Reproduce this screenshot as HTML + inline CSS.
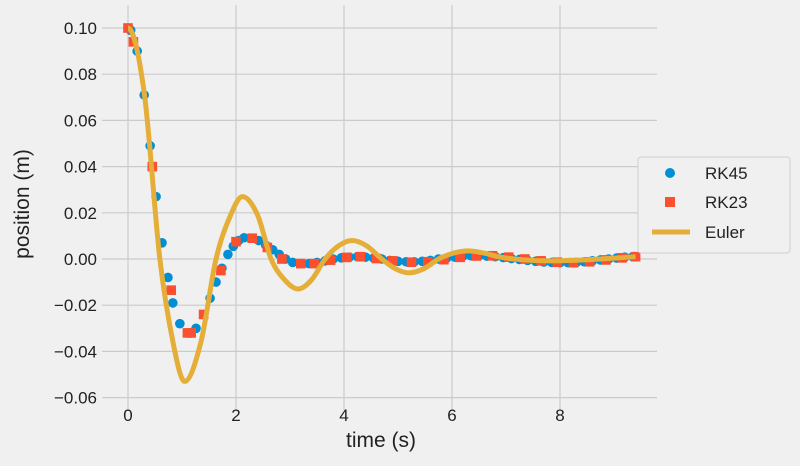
<!DOCTYPE html>
<html><head><meta charset="utf-8"><style>
body{margin:0;background:#f0f0f0;}
svg text{font-family:"Liberation Sans","DejaVu Sans",sans-serif;fill:#222;}
</style></head><body>
<svg id="chart" width="800" height="461" xmlns="http://www.w3.org/2000/svg">
<rect width="800" height="461" fill="#f0f0f0"/>
<g id="grid"></g>
<g id="series"></g>
<g id="ticks"></g>
<text x="381" y="447" font-size="21" text-anchor="middle">time (s)</text>
<text x="0" y="0" font-size="21" text-anchor="middle" transform="translate(29,204) rotate(-90)">position (m)</text>
<g>
<rect x="638" y="157" width="152" height="96" rx="3" fill="#f0f0f0" stroke="#d0d0d0"/>
<circle cx="670" cy="173" r="5" fill="#008fd5"/>
<text x="705" y="179" font-size="17">RK45</text>
<rect x="665" y="197" width="10" height="10" fill="#fc4f30"/>
<text x="705" y="208" font-size="17">RK23</text>
<line x1="652" y1="232" x2="690" y2="232" stroke="#e5ae38" stroke-width="5"/>
<text x="705" y="238" font-size="17">Euler</text>
</g>
</svg>
<script>
const xTicks=[0,2,4,6,8];
const yTicks=[0.10,0.08,0.06,0.04,0.02,0.00,-0.02,-0.04,-0.06];
const yTickLabels=["0.10","0.08","0.06","0.04","0.02","0.00","−0.02","−0.04","−0.06"];
const rk45T=[0,0.05,0.17,0.3,0.41,0.52,0.63,0.74,0.83,0.96,1.15,1.26,1.52,1.63,1.74,1.85,1.95,2.05,2.15,2.3,2.42,2.55,2.68,2.8,2.92,3.05,3.2,3.35,3.5,3.65,3.8,3.95,4.1,4.25,4.4,4.55,4.7,4.85,5.0,5.15,5.3,5.45,5.6,5.75,5.9,6.05,6.2,6.35,6.5,6.65,6.8,6.95,7.1,7.25,7.4,7.55,7.7,7.85,8.0,8.15,8.3,8.45,8.6,8.75,8.9,9.05,9.2,9.35];
const rk45Y=[0.1,0.099,0.09,0.071,0.049,0.027,0.007,-0.008,-0.019,-0.028,-0.032,-0.03,-0.017,-0.01,-0.004,0.002,0.0055,0.008,0.0092,0.009,0.008,0.006,0.004,0.002,0.0,-0.0015,-0.002,-0.002,-0.0015,-0.0008,0.0,0.0005,0.0008,0.001,0.0008,0.0004,0.0,-0.0006,-0.001,-0.0012,-0.0012,-0.001,-0.0006,0.0,0.0004,0.0008,0.0012,0.0014,0.0014,0.0012,0.001,0.0006,0.0002,-0.0002,-0.0006,-0.001,-0.0013,-0.0015,-0.0016,-0.0016,-0.0015,-0.0012,-0.0008,-0.0004,0.0,0.0004,0.0008,0.001];
const rk23T=[0,0.1,0.45,0.8,1.1,1.17,1.4,1.72,2.0,2.3,2.58,2.85,3.2,3.45,3.75,4.05,4.3,4.6,4.9,5.25,5.55,5.85,6.15,6.45,6.75,7.05,7.35,7.65,7.95,8.25,8.55,8.85,9.15,9.4];
const rk23Y=[0.1,0.094,0.04,-0.0135,-0.032,-0.032,-0.024,-0.005,0.0075,0.009,0.005,0.0,-0.002,-0.002,-0.0005,0.0007,0.001,0.0002,-0.0008,-0.0014,-0.0012,-0.0003,0.0007,0.0013,0.0014,0.0008,0.0,-0.0008,-0.0014,-0.0016,-0.0012,-0.0004,0.0005,0.001];
const eulerT=[0,0.3,0.59,0.85,1.05,1.35,1.63,1.9,2.12,2.4,2.65,2.9,3.15,3.4,3.65,3.9,4.15,4.42,4.7,4.95,5.2,5.48,5.75,6.02,6.3,6.6,6.9,7.35,7.8,8.6,9.4];
const eulerY=[0.1,0.072,0.0,-0.038,-0.053,-0.036,0.0,0.019,0.027,0.019,0.0,-0.009,-0.013,-0.009,0.0,0.0057,0.008,0.0057,0.0,-0.0042,-0.006,-0.0042,0.0,0.0025,0.0035,0.0025,0.0008,-0.0004,-0.0008,-0.0002,0.001];
const NS="http://www.w3.org/2000/svg";
const X=t=>128+54*t, Y=v=>259-v*2310;
function mk(tag,attrs,parent){const e=document.createElementNS(NS,tag);for(const k in attrs)e.setAttribute(k,attrs[k]);parent.appendChild(e);return e;}
const grid=document.getElementById('grid'),ticks=document.getElementById('ticks'),ser=document.getElementById('series');
xTicks.forEach(t=>{const l=mk('line',{x1:X(t),x2:X(t),y1:5,y2:410,stroke:'#cbcbcb','stroke-width':1.2},grid);


const tx=mk('text',{x:X(t),y:421,'font-size':17,'text-anchor':'middle'},ticks);tx.textContent=t;

});
yTicks.forEach((v,i)=>{const l=mk('line',{x1:102,x2:657,y1:Y(v),y2:Y(v),stroke:'#cbcbcb','stroke-width':1.2},grid);


const tx=mk('text',{x:97,y:Y(v)+6,'font-size':17,'text-anchor':'end'},ticks);tx.textContent=yTickLabels[i];

});
function smooth(xs,ys){const n=xs.length,m=[];
for(let i=0;i<n;i++){if(i==0)m[i]=(ys[1]-ys[0])/(xs[1]-xs[0]);else if(i==n-1)m[i]=(ys[n-1]-ys[n-2])/(xs[n-1]-xs[n-2]);
else{const a=ys[i]-ys[i-1],b=ys[i+1]-ys[i];m[i]=(a*b<=0)?0:(ys[i+1]-ys[i-1])/(xs[i+1]-xs[i-1]);}}
m[0]=0;
let p='M'+X(xs[0])+','+Y(ys[0]);for(let i=0;i<n-1;i++){const h=xs[i+1]-xs[i];
p+=' C'+X(xs[i]+h/3)+','+Y(ys[i]+m[i]*h/3)+' '+X(xs[i+1]-h/3)+','+Y(ys[i+1]-m[i+1]*h/3)+' '+X(xs[i+1])+','+Y(ys[i+1]);}return p;}
rk45T.forEach((t,i)=>{const c=mk('circle',{cx:X(t),cy:Y(rk45Y[i]),r:4.8,fill:'#008fd5'},ser);

});
rk23T.forEach((t,i)=>{const r=mk('rect',{x:X(t)-4.8,y:Y(rk23Y[i])-4.8,width:9.6,height:9.6,fill:'#fc4f30'},ser);

});
const pl=mk('path',{d:smooth(eulerT,eulerY),fill:'none',stroke:'#e5ae38','stroke-width':5,'stroke-linejoin':'round'},ser);


</script>
</body></html>
